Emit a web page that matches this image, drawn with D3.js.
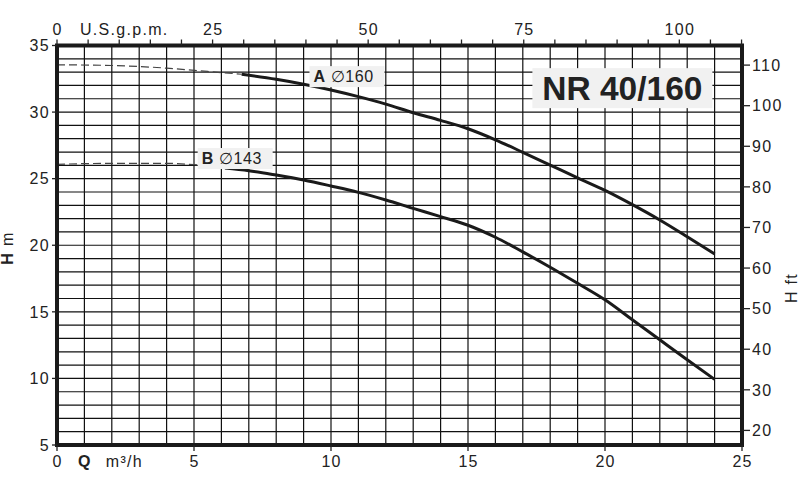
<!DOCTYPE html>
<html><head><meta charset="utf-8">
<script src="https://cdn.jsdelivr.net/npm/d3@7/dist/d3.min.js"></script>
<style>
body{margin:0;background:#fff;}
text{font-family:"Liberation Sans",Arial,Helvetica,sans-serif;fill:#222;}
.ax{letter-spacing:1.3px;}
</style></head>
<body>
<svg id="c" width="812" height="477"></svg>
<script>
// ---- data ----
const qTicks = [0, 5, 10, 15, 20, 25];
const hTicks = [5, 10, 15, 20, 25, 30, 35];
const gpmLabels = [0, 25, 50, 75, 100];
const ftTicks = [20, 30, 40, 50, 60, 70, 80, 90, 100, 110];

const qA = [6.74, 8, 9, 10, 11, 12, 13, 14, 15, 16, 17, 18, 19, 20, 21, 22, 23, 24];
const hA = [32.84, 32.46, 32.09, 31.66, 31.16, 30.6, 29.95, 29.38, 28.75, 27.92, 26.98, 26.02, 25.06, 24.12, 23.05, 21.9, 20.64, 19.34];
const qAdash = [0, 2, 4, 5.5, 6.74];
const hAdash = [33.55, 33.5, 33.3, 33.05, 32.84];

const qB = [6.13, 7, 8, 9, 10, 11, 12, 13, 14, 15, 16, 17, 18, 19, 20, 21, 22, 23, 24];
const hB = [25.8, 25.6, 25.27, 24.9, 24.45, 23.97, 23.4, 22.77, 22.15, 21.5, 20.6, 19.5, 18.35, 17.14, 15.9, 14.4, 12.9, 11.4, 9.93];
const qBdash = [0, 2, 4, 5, 6.13];
const hBdash = [26.08, 26.15, 26.15, 26.05, 25.8];

const title = "NR 40/160";
const labelA = ["A", " \u2205160"];
const labelB = ["B", " \u2205143"];

// ---- scales ----
const svg = d3.select("#c");
const X0 = 57, X1 = 742, Y0 = 445, Y1 = 45.5;
const x = d3.scaleLinear().domain([0, 25]).range([X0, X1]);
const y = d3.scaleLinear().domain([5, 35]).range([Y0, Y1]);
const GPM = 4.402868;
const xg = d3.scaleLinear().domain([0, 25 * GPM]).range([X0, X1]);
const yf = d3.scaleLinear().domain([5 / 0.3048, 35 / 0.3048]).range([Y0, Y1]);

// grid
const g = svg.append("g");
g.selectAll(".vg").data(d3.range(1, 25)).join("line")
  .attr("x1", d => x(d)).attr("x2", d => x(d)).attr("y1", Y1).attr("y2", Y0)
  .attr("stroke", "#111").attr("stroke-width", 1.2);
g.selectAll(".hg").data(d3.range(6, 35)).join("line")
  .attr("y1", d => y(d)).attr("y2", d => y(d)).attr("x1", X0).attr("x2", X1)
  .attr("stroke", "#111").attr("stroke-width", 1.2);

// title box
const tb = svg.append("g");
tb.append("rect").attr("x", x(17.35)).attr("y", y(33.3)).attr("width", 180).attr("height", 40).attr("fill", "#f1f1f1");
tb.append("text").attr("x", x(17.35) + 90).attr("y", y(33.3) + 32).attr("text-anchor", "middle")
  .attr("font-size", 33.5).attr("font-weight", "bold").attr("fill", "#1a1a1a").text(title);

// curves
const line = d3.line().x(d => x(d[0])).y(d => y(d[1])).curve(d3.curveMonotoneX);
function curve(qs, hs, dashed) {
  svg.append("path").datum(qs.map((q, i) => [q, hs[i]])).attr("d", line)
    .attr("fill", "none")
    .attr("stroke", dashed ? "#444" : "#1a1a1a")
    .attr("stroke-width", dashed ? 1.2 : 3)
    .attr("stroke-dasharray", dashed ? "8,4" : null);
}
curve(qAdash, hAdash, true);
curve(qA, hA, false);
curve(qBdash, hBdash, true);
curve(qB, hB, false);

// curve labels
function lbl(q, h, parts, w) {
  const gg = svg.append("g");
  gg.append("rect").attr("x", x(q) - 4).attr("y", y(h) - 16).attr("width", w).attr("height", 21).attr("fill", "#f1f1f1");
  const t = gg.append("text").attr("x", x(q)).attr("y", y(h)).attr("font-size", 16).attr("letter-spacing", 0.6);
  t.append("tspan").attr("font-weight", "bold").text(parts[0]);
  t.append("tspan").text(parts[1]);
}
lbl(9.36, 32.25, labelA, 75);
lbl(5.28, 26.1, labelB, 75);

// frame
svg.append("rect").attr("x", X0).attr("y", Y1).attr("width", X1 - X0).attr("height", Y0 - Y1)
  .attr("fill", "none").attr("stroke", "#1a1a1a").attr("stroke-width", 4);

// left axis
svg.selectAll(".lt").data(hTicks).join("line")
  .attr("x1", X0 - 5).attr("x2", X0).attr("y1", d => y(d)).attr("y2", d => y(d))
  .attr("stroke", "#222").attr("stroke-width", 1.3);
svg.selectAll(".ll").data(hTicks).join("text").attr("class", "ax")
  .attr("x", X0 - 7).attr("y", d => y(d)).attr("dy", "0.36em").attr("text-anchor", "end")
  .attr("font-size", 16).text(d => d);

// bottom axis
svg.selectAll(".bt").data(qTicks).join("line")
  .attr("x1", d => x(d)).attr("x2", d => x(d)).attr("y1", Y0).attr("y2", Y0 + 6)
  .attr("stroke", "#222").attr("stroke-width", 1.3);
svg.selectAll(".bl").data(qTicks).join("text").attr("class", "ax")
  .attr("x", d => x(d) + 0.6).attr("y", 467).attr("text-anchor", "middle")
  .attr("font-size", 16).text(d => d);
const qt = svg.append("text").attr("class", "ax").attr("x", 78).attr("y", 467).attr("font-size", 16);
qt.append("tspan").attr("font-weight", "bold").text("Q");
qt.append("tspan").attr("dx", 14).text("m\u00B3/h");

// top axis (US gpm)
svg.selectAll(".tt").data(d3.range(0, 111, 5)).join("line")
  .attr("x1", d => xg(d)).attr("x2", d => xg(d)).attr("y1", Y1).attr("y2", Y1 - 6)
  .attr("stroke", "#222").attr("stroke-width", 1.3);
svg.selectAll(".tl").data(gpmLabels).join("text").attr("class", "ax")
  .attr("x", d => xg(d) + 0.6).attr("y", 35).attr("text-anchor", "middle")
  .attr("font-size", 16).text(d => d);
svg.append("text").attr("class", "ax").attr("x", 80).attr("y", 35).attr("font-size", 16).text("U.S.g.p.m.");

// right axis (ft)
svg.selectAll(".rt").data(ftTicks).join("line")
  .attr("x1", X1).attr("x2", X1 + 8).attr("y1", d => yf(d)).attr("y2", d => yf(d))
  .attr("stroke", "#222").attr("stroke-width", 1.3);
svg.selectAll(".rl").data(ftTicks).join("text").attr("class", "ax")
  .attr("x", X1 + 10).attr("y", d => yf(d)).attr("dy", "0.36em")
  .attr("font-size", 16).text(d => d);

// axis titles
const hm = svg.append("text").attr("class", "ax").attr("transform", "translate(13,248) rotate(-90)")
  .attr("text-anchor", "middle").attr("font-size", 16);
hm.append("tspan").attr("font-weight", "bold").text("H");
hm.append("tspan").attr("dx", 6).text("m");
svg.append("text").attr("class", "ax").attr("transform", "translate(797,288) rotate(-90)")
  .attr("text-anchor", "middle").attr("font-size", 16).text("H ft");
</script>
</body></html>
